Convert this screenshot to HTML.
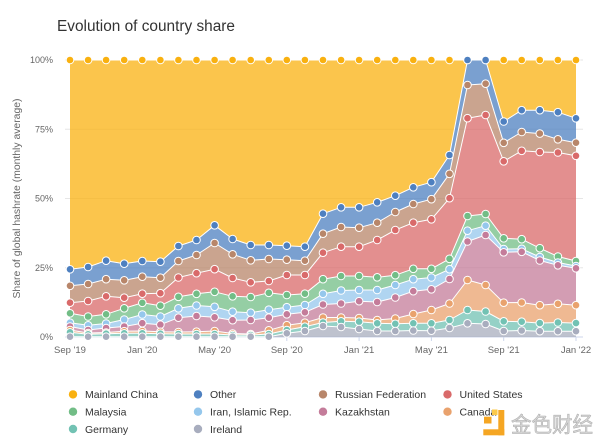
<!DOCTYPE html>
<html><head><meta charset="utf-8"><style>
html,body{margin:0;padding:0;background:#fff;overflow:hidden;}
svg{display:block;}
</style></head><body>
<svg width="600" height="441" viewBox="0 0 600 441" xmlns="http://www.w3.org/2000/svg" font-family="'Liberation Sans', sans-serif">
<defs>
<marker id="mCN" markerWidth="10" markerHeight="10" refX="5" refY="5" markerUnits="userSpaceOnUse"><circle cx="5" cy="5" r="3.8" fill="#f9b110" stroke="#fff" stroke-width="1"/></marker>
<marker id="mO" markerWidth="10" markerHeight="10" refX="5" refY="5" markerUnits="userSpaceOnUse"><circle cx="5" cy="5" r="3.8" fill="#4e80c0" stroke="#fff" stroke-width="1"/></marker>
<marker id="mR" markerWidth="10" markerHeight="10" refX="5" refY="5" markerUnits="userSpaceOnUse"><circle cx="5" cy="5" r="3.8" fill="#b8866a" stroke="#fff" stroke-width="1"/></marker>
<marker id="mU" markerWidth="10" markerHeight="10" refX="5" refY="5" markerUnits="userSpaceOnUse"><circle cx="5" cy="5" r="3.8" fill="#d96a6a" stroke="#fff" stroke-width="1"/></marker>
<marker id="mM" markerWidth="10" markerHeight="10" refX="5" refY="5" markerUnits="userSpaceOnUse"><circle cx="5" cy="5" r="3.8" fill="#72bd86" stroke="#fff" stroke-width="1"/></marker>
<marker id="mI" markerWidth="10" markerHeight="10" refX="5" refY="5" markerUnits="userSpaceOnUse"><circle cx="5" cy="5" r="3.8" fill="#95c7ec" stroke="#fff" stroke-width="1"/></marker>
<marker id="mK" markerWidth="10" markerHeight="10" refX="5" refY="5" markerUnits="userSpaceOnUse"><circle cx="5" cy="5" r="3.8" fill="#c47c9a" stroke="#fff" stroke-width="1"/></marker>
<marker id="mC" markerWidth="10" markerHeight="10" refX="5" refY="5" markerUnits="userSpaceOnUse"><circle cx="5" cy="5" r="3.8" fill="#e9a26d" stroke="#fff" stroke-width="1"/></marker>
<marker id="mG" markerWidth="10" markerHeight="10" refX="5" refY="5" markerUnits="userSpaceOnUse"><circle cx="5" cy="5" r="3.8" fill="#72c2b3" stroke="#fff" stroke-width="1"/></marker>
<marker id="mIr" markerWidth="10" markerHeight="10" refX="5" refY="5" markerUnits="userSpaceOnUse"><circle cx="5" cy="5" r="3.8" fill="#a8adbe" stroke="#fff" stroke-width="1"/></marker>
</defs>

<!-- Title -->
<text x="57" y="31" font-size="15.3" fill="#333" textLength="178" lengthAdjust="spacingAndGlyphs">Evolution of country share</text>

<!-- Gridlines -->
<g stroke="#e6e6e6" stroke-width="1">
<line x1="65" y1="60" x2="583" y2="60"/>
<line x1="65" y1="129.25" x2="583" y2="129.25"/>
<line x1="65" y1="198.5" x2="583" y2="198.5"/>
<line x1="65" y1="267.75" x2="583" y2="267.75"/>
</g>
<line x1="65" y1="337" x2="583" y2="337" stroke="#ccd6eb" stroke-width="1"/>
<g stroke="#ccd6eb" stroke-width="1">
<line x1="70" y1="337" x2="70" y2="341"/>
<line x1="142.3" y1="337" x2="142.3" y2="341"/>
<line x1="214.6" y1="337" x2="214.6" y2="341"/>
<line x1="286.8" y1="337" x2="286.8" y2="341"/>
<line x1="359.1" y1="337" x2="359.1" y2="341"/>
<line x1="431.4" y1="337" x2="431.4" y2="341"/>
<line x1="503.7" y1="337" x2="503.7" y2="341"/>
<line x1="576" y1="337" x2="576" y2="341"/>
</g>

<!-- Y labels -->
<g font-size="9" fill="#666" text-anchor="end">
<text x="53" y="63">100%</text>
<text x="53" y="132.3">75%</text>
<text x="53" y="201.5">50%</text>
<text x="53" y="270.8">25%</text>
<text x="53" y="340">0%</text>
</g>
<text transform="translate(20,198.5) rotate(-90)" text-anchor="middle" font-size="10" fill="#666" textLength="200" lengthAdjust="spacingAndGlyphs">Share of global hashrate (monthly average)</text>

<!-- X labels -->
<g font-size="9.5" fill="#666" text-anchor="middle">
<text x="70" y="353">Sep '19</text>
<text x="142.3" y="353">Jan '20</text>
<text x="214.6" y="353">May '20</text>
<text x="286.8" y="353">Sep '20</text>
<text x="359.1" y="353">Jan '21</text>
<text x="431.4" y="353">May '21</text>
<text x="503.7" y="353">Sep '21</text>
<text x="576" y="353">Jan '22</text>
</g>

<!-- Areas -->
<g fill-opacity="0.75" stroke="none">
<polygon fill="#f9b110" points="70,60 88.1,60 106.1,60 124.2,60 142.3,60 160.4,60 178.4,60 196.5,60 214.6,60 232.6,60 250.7,60 268.8,60 286.8,60 304.9,60 323,60 341.1,60 359.1,60 377.2,60 395.3,60 413.3,60 431.4,60 449.5,60 467.5,60 485.6,60 503.7,60 521.7,60 539.8,60 557.9,60 576,60 576,118.3 557.9,112.2 539.8,110.2 521.7,110.2 503.7,121.5 485.6,60 467.5,60 449.5,155 431.4,182.2 413.3,187.3 395.3,195.7 377.2,202.3 359.1,207.3 341.1,207.3 323,213.7 304.9,246.7 286.8,245.7 268.8,245 250.7,245 232.6,239 214.6,225.3 196.5,240 178.4,246 160.4,261.7 142.3,261 124.2,263.7 106.1,260.7 88.1,267 70,269.3"/>
<polygon fill="#4e80c0" points="70,269.3 88.1,267 106.1,260.7 124.2,263.7 142.3,261 160.4,261.7 178.4,246 196.5,240 214.6,225.3 232.6,239 250.7,245 268.8,245 286.8,245.7 304.9,246.7 323,213.7 341.1,207.3 359.1,207.3 377.2,202.3 395.3,195.7 413.3,187.3 431.4,182.2 449.5,155 467.5,60 485.6,60 503.7,121.5 521.7,110.2 539.8,110.2 557.9,112.2 576,118.3 576,142.7 557.9,139.3 539.8,133.6 521.7,132 503.7,142.8 485.6,83.7 467.5,85 449.5,173.8 431.4,199.2 413.3,204 395.3,212 377.2,222.7 359.1,227.7 341.1,227 323,233.7 304.9,260.7 286.8,259.7 268.8,259 250.7,260.3 232.6,254.3 214.6,243 196.5,255 178.4,261 160.4,277.7 142.3,276.7 124.2,280.3 106.1,279.2 88.1,284 70,285.8"/>
<polygon fill="#b8866a" points="70,285.8 88.1,284 106.1,279.2 124.2,280.3 142.3,276.7 160.4,277.7 178.4,261 196.5,255 214.6,243 232.6,254.3 250.7,260.3 268.8,259 286.8,259.7 304.9,260.7 323,233.7 341.1,227 359.1,227.7 377.2,222.7 395.3,212 413.3,204 431.4,199.2 449.5,173.8 467.5,85 485.6,83.7 503.7,142.8 521.7,132 539.8,133.6 557.9,139.3 576,142.7 576,155.8 557.9,152.5 539.8,152 521.7,150.8 503.7,161.3 485.6,115 467.5,118.2 449.5,198.2 431.4,219.3 413.3,222.7 395.3,230 377.2,240 359.1,246.7 341.1,246.7 323,252.7 304.9,275 286.8,275 268.8,281 250.7,282.3 232.6,278 214.6,269.2 196.5,273.2 178.4,277.5 160.4,293.2 142.3,293.7 124.2,297.7 106.1,296.3 88.1,301 70,302.7"/>
<polygon fill="#d96a6a" points="70,302.7 88.1,301 106.1,296.3 124.2,297.7 142.3,293.7 160.4,293.2 178.4,277.5 196.5,273.2 214.6,269.2 232.6,278 250.7,282.3 268.8,281 286.8,275 304.9,275 323,252.7 341.1,246.7 359.1,246.7 377.2,240 395.3,230 413.3,222.7 431.4,219.3 449.5,198.2 467.5,118.2 485.6,115 503.7,161.3 521.7,150.8 539.8,152 557.9,152.5 576,155.8 576,261 557.9,256.5 539.8,248.2 521.7,239.2 503.7,238.3 485.6,214 467.5,216 449.5,258.8 431.4,268.8 413.3,268.8 395.3,275.2 377.2,277.3 359.1,276 341.1,276 323,279.2 304.9,293.7 286.8,295 268.8,292.8 250.7,297 232.6,296.3 214.6,291.8 196.5,293.8 178.4,296.8 160.4,305.7 142.3,302.8 124.2,308.3 106.1,314.3 88.1,316.5 70,313.3"/>
<polygon fill="#72bd86" points="70,313.3 88.1,316.5 106.1,314.3 124.2,308.3 142.3,302.8 160.4,305.7 178.4,296.8 196.5,293.8 214.6,291.8 232.6,296.3 250.7,297 268.8,292.8 286.8,295 304.9,293.7 323,279.2 341.1,276 359.1,276 377.2,277.3 395.3,275.2 413.3,268.8 431.4,268.8 449.5,258.8 467.5,216 485.6,214 503.7,238.3 521.7,239.2 539.8,248.2 557.9,256.5 576,261 576,266 557.9,262.5 539.8,257 521.7,248.8 503.7,249 485.6,225.7 467.5,230.7 449.5,269.2 431.4,277.5 413.3,279.2 395.3,285 377.2,290 359.1,290 341.1,290.5 323,293.8 304.9,305 286.8,307.2 268.8,309.7 250.7,312.7 232.6,311.7 214.6,306.8 196.5,305.5 178.4,308.3 160.4,316.5 142.3,314.5 124.2,319.5 106.1,323.5 88.1,325.3 70,322.7"/>
<polygon fill="#95c7ec" points="70,322.7 88.1,325.3 106.1,323.5 124.2,319.5 142.3,314.5 160.4,316.5 178.4,308.3 196.5,305.5 214.6,306.8 232.6,311.7 250.7,312.7 268.8,309.7 286.8,307.2 304.9,305 323,293.8 341.1,290.5 359.1,290 377.2,290 395.3,285 413.3,279.2 431.4,277.5 449.5,269.2 467.5,230.7 485.6,225.7 503.7,249 521.7,248.8 539.8,257 557.9,262.5 576,266 576,268.3 557.9,265.3 539.8,260.5 521.7,251.8 503.7,252.3 485.6,235 467.5,241.5 449.5,279 431.4,289.3 413.3,291.2 395.3,297.5 377.2,302 359.1,301.2 341.1,303.5 323,304.5 304.9,312.3 286.8,314.3 268.8,317.7 250.7,320 232.6,320.2 214.6,317.3 196.5,316 178.4,317.7 160.4,324.7 142.3,323.2 124.2,326.5 106.1,328 88.1,330 70,326.5"/>
<polygon fill="#c47c9a" points="70,326.5 88.1,330 106.1,328 124.2,326.5 142.3,323.2 160.4,324.7 178.4,317.7 196.5,316 214.6,317.3 232.6,320.2 250.7,320 268.8,317.7 286.8,314.3 304.9,312.3 323,304.5 341.1,303.5 359.1,301.2 377.2,302 395.3,297.5 413.3,291.2 431.4,289.3 449.5,279 467.5,241.5 485.6,235 503.7,252.3 521.7,251.8 539.8,260.5 557.9,265.3 576,268.3 576,305.2 557.9,303.8 539.8,305.2 521.7,302.5 503.7,302.7 485.6,285 467.5,280 449.5,303.5 431.4,310 413.3,314 395.3,318.5 377.2,320 359.1,318 341.1,317.5 323,317.5 304.9,322.7 286.8,325.2 268.8,330.3 250.7,334 232.6,333.5 214.6,331 196.5,331.7 178.4,332 160.4,331.8 142.3,331 124.2,331.2 106.1,332.5 88.1,333 70,330"/>
<polygon fill="#e9a26d" points="70,330 88.1,333 106.1,332.5 124.2,331.2 142.3,331 160.4,331.8 178.4,332 196.5,331.7 214.6,331 232.6,333.5 250.7,334 268.8,330.3 286.8,325.2 304.9,322.7 323,317.5 341.1,317.5 359.1,318 377.2,320 395.3,318.5 413.3,314 431.4,310 449.5,303.5 467.5,280 485.6,285 503.7,302.7 521.7,302.5 539.8,305.2 557.9,303.8 576,305.2 576,323.1 557.9,322.5 539.8,323.1 521.7,321.7 503.7,321.3 485.6,311.5 467.5,310 449.5,320 431.4,323.3 413.3,323.3 395.3,323.8 377.2,323.3 359.1,321.7 341.1,321.3 323,322.5 304.9,326.7 286.8,330 268.8,334 250.7,335 232.6,335 214.6,334 196.5,334 178.4,334 160.4,333.7 142.3,333.3 124.2,333.3 106.1,333.7 88.1,334.3 70,332.3"/>
<polygon fill="#72c2b3" points="70,332.3 88.1,334.3 106.1,333.7 124.2,333.3 142.3,333.3 160.4,333.7 178.4,334 196.5,334 214.6,334 232.6,335 250.7,335 268.8,334 286.8,330 304.9,326.7 323,322.5 341.1,321.3 359.1,321.7 377.2,323.3 395.3,323.8 413.3,323.3 431.4,323.3 449.5,320 467.5,310 485.6,311.5 503.7,321.3 521.7,321.7 539.8,323.1 557.9,322.5 576,323.1 576,331.2 557.9,331.2 539.8,331.2 521.7,330.5 503.7,331 485.6,324 467.5,323.3 449.5,328 431.4,330.7 413.3,330.5 395.3,331 377.2,331 359.1,329 341.1,327 323,326 304.9,331 286.8,333.3 268.8,336.7 250.7,336.7 232.6,336.7 214.6,336.7 196.5,336.7 178.4,336.7 160.4,336.7 142.3,336.7 124.2,336.7 106.1,336.7 88.1,336.7 70,336.7"/>
<polygon fill="#a8adbe" points="70,336.7 88.1,336.7 106.1,336.7 124.2,336.7 142.3,336.7 160.4,336.7 178.4,336.7 196.5,336.7 214.6,336.7 232.6,336.7 250.7,336.7 268.8,336.7 286.8,333.3 304.9,331 323,326 341.1,327 359.1,329 377.2,331 395.3,331 413.3,330.5 431.4,330.7 449.5,328 467.5,323.3 485.6,324 503.7,331 521.7,330.5 539.8,331.2 557.9,331.2 576,331.2 576,337 70,337"/>
</g>

<!-- Lines and markers -->
<g fill="none" stroke="#fff" stroke-width="1" stroke-linejoin="round">
<polyline marker-start="url(#mCN)" marker-mid="url(#mCN)" marker-end="url(#mCN)" points="70,60 88.1,60 106.1,60 124.2,60 142.3,60 160.4,60 178.4,60 196.5,60 214.6,60 232.6,60 250.7,60 268.8,60 286.8,60 304.9,60 323,60 341.1,60 359.1,60 377.2,60 395.3,60 413.3,60 431.4,60 449.5,60 467.5,60 485.6,60 503.7,60 521.7,60 539.8,60 557.9,60 576,60"/>
<polyline marker-start="url(#mO)" marker-mid="url(#mO)" marker-end="url(#mO)" points="70,269.3 88.1,267 106.1,260.7 124.2,263.7 142.3,261 160.4,261.7 178.4,246 196.5,240 214.6,225.3 232.6,239 250.7,245 268.8,245 286.8,245.7 304.9,246.7 323,213.7 341.1,207.3 359.1,207.3 377.2,202.3 395.3,195.7 413.3,187.3 431.4,182.2 449.5,155 467.5,60 485.6,60 503.7,121.5 521.7,110.2 539.8,110.2 557.9,112.2 576,118.3"/>
<polyline marker-start="url(#mR)" marker-mid="url(#mR)" marker-end="url(#mR)" points="70,285.8 88.1,284 106.1,279.2 124.2,280.3 142.3,276.7 160.4,277.7 178.4,261 196.5,255 214.6,243 232.6,254.3 250.7,260.3 268.8,259 286.8,259.7 304.9,260.7 323,233.7 341.1,227 359.1,227.7 377.2,222.7 395.3,212 413.3,204 431.4,199.2 449.5,173.8 467.5,85 485.6,83.7 503.7,142.8 521.7,132 539.8,133.6 557.9,139.3 576,142.7"/>
<polyline marker-start="url(#mU)" marker-mid="url(#mU)" marker-end="url(#mU)" points="70,302.7 88.1,301 106.1,296.3 124.2,297.7 142.3,293.7 160.4,293.2 178.4,277.5 196.5,273.2 214.6,269.2 232.6,278 250.7,282.3 268.8,281 286.8,275 304.9,275 323,252.7 341.1,246.7 359.1,246.7 377.2,240 395.3,230 413.3,222.7 431.4,219.3 449.5,198.2 467.5,118.2 485.6,115 503.7,161.3 521.7,150.8 539.8,152 557.9,152.5 576,155.8"/>
<polyline marker-start="url(#mM)" marker-mid="url(#mM)" marker-end="url(#mM)" points="70,313.3 88.1,316.5 106.1,314.3 124.2,308.3 142.3,302.8 160.4,305.7 178.4,296.8 196.5,293.8 214.6,291.8 232.6,296.3 250.7,297 268.8,292.8 286.8,295 304.9,293.7 323,279.2 341.1,276 359.1,276 377.2,277.3 395.3,275.2 413.3,268.8 431.4,268.8 449.5,258.8 467.5,216 485.6,214 503.7,238.3 521.7,239.2 539.8,248.2 557.9,256.5 576,261"/>
<polyline marker-start="url(#mI)" marker-mid="url(#mI)" marker-end="url(#mI)" points="70,322.7 88.1,325.3 106.1,323.5 124.2,319.5 142.3,314.5 160.4,316.5 178.4,308.3 196.5,305.5 214.6,306.8 232.6,311.7 250.7,312.7 268.8,309.7 286.8,307.2 304.9,305 323,293.8 341.1,290.5 359.1,290 377.2,290 395.3,285 413.3,279.2 431.4,277.5 449.5,269.2 467.5,230.7 485.6,225.7 503.7,249 521.7,248.8 539.8,257 557.9,262.5 576,266"/>
<polyline marker-start="url(#mK)" marker-mid="url(#mK)" marker-end="url(#mK)" points="70,326.5 88.1,330 106.1,328 124.2,326.5 142.3,323.2 160.4,324.7 178.4,317.7 196.5,316 214.6,317.3 232.6,320.2 250.7,320 268.8,317.7 286.8,314.3 304.9,312.3 323,304.5 341.1,303.5 359.1,301.2 377.2,302 395.3,297.5 413.3,291.2 431.4,289.3 449.5,279 467.5,241.5 485.6,235 503.7,252.3 521.7,251.8 539.8,260.5 557.9,265.3 576,268.3"/>
<polyline marker-start="url(#mC)" marker-mid="url(#mC)" marker-end="url(#mC)" points="70,330 88.1,333 106.1,332.5 124.2,331.2 142.3,331 160.4,331.8 178.4,332 196.5,331.7 214.6,331 232.6,333.5 250.7,334 268.8,330.3 286.8,325.2 304.9,322.7 323,317.5 341.1,317.5 359.1,318 377.2,320 395.3,318.5 413.3,314 431.4,310 449.5,303.5 467.5,280 485.6,285 503.7,302.7 521.7,302.5 539.8,305.2 557.9,303.8 576,305.2"/>
<polyline marker-start="url(#mG)" marker-mid="url(#mG)" marker-end="url(#mG)" points="70,332.3 88.1,334.3 106.1,333.7 124.2,333.3 142.3,333.3 160.4,333.7 178.4,334 196.5,334 214.6,334 232.6,335 250.7,335 268.8,334 286.8,330 304.9,326.7 323,322.5 341.1,321.3 359.1,321.7 377.2,323.3 395.3,323.8 413.3,323.3 431.4,323.3 449.5,320 467.5,310 485.6,311.5 503.7,321.3 521.7,321.7 539.8,323.1 557.9,322.5 576,323.1"/>
<polyline marker-start="url(#mIr)" marker-mid="url(#mIr)" marker-end="url(#mIr)" points="70,336.7 88.1,336.7 106.1,336.7 124.2,336.7 142.3,336.7 160.4,336.7 178.4,336.7 196.5,336.7 214.6,336.7 232.6,336.7 250.7,336.7 268.8,336.7 286.8,333.3 304.9,331 323,326 341.1,327 359.1,329 377.2,331 395.3,331 413.3,330.5 431.4,330.7 449.5,328 467.5,323.3 485.6,324 503.7,331 521.7,330.5 539.8,331.2 557.9,331.2 576,331.2"/>
</g>

<!-- Legend -->
<g>
<circle cx="73" cy="394.4" r="4.2" fill="#f9b110"/>
<circle cx="198" cy="394.4" r="4.2" fill="#4e80c0"/>
<circle cx="323" cy="394.4" r="4.2" fill="#b8866a"/>
<circle cx="447.5" cy="394.4" r="4.2" fill="#d96a6a"/>
<circle cx="73" cy="411.7" r="4.2" fill="#72bd86"/>
<circle cx="198" cy="411.7" r="4.2" fill="#95c7ec"/>
<circle cx="323" cy="411.7" r="4.2" fill="#c47c9a"/>
<circle cx="447.5" cy="411.7" r="4.2" fill="#e9a26d"/>
<circle cx="73" cy="429" r="4.2" fill="#72c2b3"/>
<circle cx="198" cy="429" r="4.2" fill="#a8adbe"/>
</g>
<g font-size="10.5" fill="#333">
<text x="85" y="398.2">Mainland China</text>
<text x="210" y="398.2">Other</text>
<text x="335" y="398.2">Russian Federation</text>
<text x="459.5" y="398.2">United States</text>
<text x="85" y="415.5">Malaysia</text>
<text x="210" y="415.5">Iran, Islamic Rep.</text>
<text x="335" y="415.5">Kazakhstan</text>
<text x="459.5" y="415.5">Canada</text>
<text x="85" y="432.8">Germany</text>
<text x="210" y="432.8">Ireland</text>
</g>

<!-- Watermark -->
<g>
<rect x="492" y="409.5" width="5.5" height="5.5" fill="#fbc94a"/>
<rect x="484" y="416.7" width="7.5" height="6.8" fill="#f5a623"/>
<rect x="498.3" y="410" width="6" height="25.3" fill="#f5a623"/>
<rect x="483.3" y="429.3" width="21" height="6" fill="#f5a623"/>
<text x="511" y="432" font-family="'Liberation Sans','Noto Sans CJK SC',sans-serif" font-size="21" fill="#d8d8d8" stroke="#b0b0b0" stroke-width="0.6" textLength="82" lengthAdjust="spacingAndGlyphs">金色财经</text>
</g>
</svg>
</body></html>
